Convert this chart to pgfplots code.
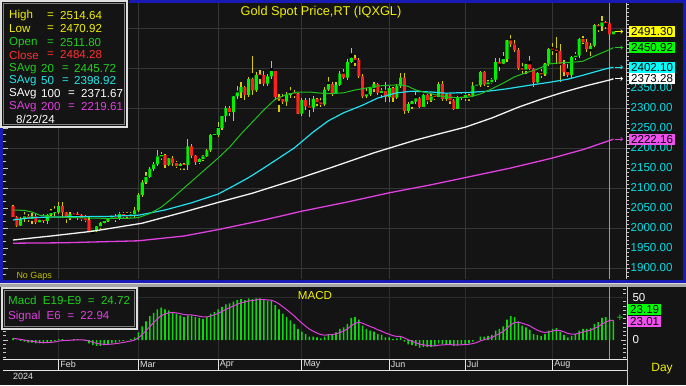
\documentclass[border=0pt]{standalone}
\usepackage{pgfplots}
\pgfplotsset{compat=1.18}
\usepackage{pgfplotstable}
\usepackage{fontspec}
\setmainfont{Liberation Sans}
\usetikzlibrary{arrows.meta}
\definecolor{bgc}{HTML}{141414}
\definecolor{gridc}{HTML}{363636}
\definecolor{framec}{HTML}{1A1AB4}
\definecolor{wickc}{HTML}{D4CC00}
\definecolor{upc}{HTML}{00F000}
\definecolor{dnc}{HTML}{FF2020}
\definecolor{ma20}{HTML}{20C020}
\definecolor{ma50}{HTML}{20E0F0}
\definecolor{ma100}{HTML}{F4F4F4}
\definecolor{ma200}{HTML}{E040E0}
\definecolor{labc}{HTML}{00E0E8}
\definecolor{ylw}{HTML}{F0F000}
\definecolor{grn}{HTML}{20D020}
\definecolor{redt}{HTML}{FF3030}
\definecolor{cyt}{HTML}{20E8E8}
\definecolor{mgt}{HTML}{E040E0}
\definecolor{tickc}{HTML}{C8C8C8}
\definecolor{histc}{HTML}{10D810}
\definecolor{curc}{HTML}{9A9A9A}
\definecolor{nogap}{HTML}{C0C000}
\newcommand\lab{\fontsize{11.6}{13}\selectfont}
\newcommand\sml{\fontsize{9}{10}\selectfont}

\pgfplotstableread{
i o h l c
0 2055 2057 2027 2028
1 2028 2031 2002 2006
2 2006 2027 2004 2022
3 2022 2040 2016 2029
4 2029 2034 2016 2022
5 2022 2037 2010 2029
6 2029 2037 2010 2014
7 2014 2023 2009 2020
8 2020 2036 2012 2018
9 2018 2036 2011 2033
10 2033 2048 2029 2037
11 2037 2056 2030 2039
12 2039 2065 2035 2055
13 2055 2066 2025 2039
14 2039 2041 2013 2025
15 2025 2039 2020 2035
16 2035 2041 2027 2034
17 2034 2041 2019 2033
18 2033 2036 2018 2024
19 2024 2032 2016 2020
20 2020 2031 1990 1992
21 1992 1996 1984 1992
22 1992 2006 1989 2004
23 2004 2016 1997 2013
24 2013 2022 2011 2017
25 2017 2031 2014 2024
26 2024 2033 2019 2025
27 2025 2034 2016 2024
28 2024 2041 2020 2035
29 2035 2040 2025 2031
30 2031 2041 2025 2029
31 2029 2040 2024 2034
32 2034 2052 2024 2044
33 2044 2088 2040 2083
34 2083 2119 2078 2114
35 2114 2141 2110 2128
36 2128 2152 2126 2148
37 2148 2165 2143 2159
38 2159 2195 2155 2179
39 2179 2189 2170 2182
40 2182 2184 2150 2158
41 2158 2175 2155 2174
42 2174 2180 2155 2162
43 2162 2168 2150 2155
44 2155 2163 2146 2160
45 2160 2163 2145 2157
46 2157 2222 2146 2204
47 2204 2210 2175 2181
48 2181 2183 2157 2165
49 2165 2176 2160 2172
50 2172 2183 2168 2179
51 2179 2197 2177 2194
52 2194 2236 2190 2233
53 2233 2236 2230 2233
54 2233 2266 2228 2250
55 2250 2281 2245 2280
56 2280 2305 2266 2300
57 2300 2305 2281 2290
58 2290 2331 2268 2329
59 2329 2354 2322 2339
60 2339 2365 2325 2352
61 2352 2355 2320 2333
62 2333 2378 2328 2372
63 2372 2431 2332 2344
64 2344 2389 2340 2383
65 2383 2395 2360 2382
66 2382 2393 2355 2361
67 2361 2385 2355 2379
68 2379 2417 2372 2392
69 2392 2392 2320 2327
70 2327 2335 2291 2322
71 2322 2335 2310 2316
72 2316 2339 2306 2332
73 2332 2353 2324 2337
74 2337 2345 2325 2336
75 2336 2337 2285 2286
76 2286 2326 2281 2320
77 2320 2326 2295 2304
78 2304 2324 2277 2301
79 2301 2331 2291 2323
80 2323 2326 2305 2314
81 2314 2324 2303 2309
82 2309 2352 2306 2346
83 2346 2378 2343 2360
84 2360 2364 2331 2336
85 2336 2365 2335 2358
86 2358 2392 2354 2386
87 2386 2397 2373 2376
88 2376 2422 2371 2415
89 2415 2450 2413 2425
90 2425 2432 2404 2420
91 2420 2425 2374 2379
92 2379 2384 2326 2329
93 2329 2349 2325 2334
94 2334 2352 2330 2350
95 2350 2364 2341 2360
96 2360 2362 2332 2338
97 2338 2351 2326 2343
98 2343 2365 2315 2327
99 2327 2354 2314 2350
100 2350 2352 2316 2326
101 2326 2359 2322 2355
102 2355 2388 2350 2376
103 2376 2387 2286 2293
104 2293 2315 2287 2310
105 2310 2318 2298 2316
106 2316 2342 2311 2324
107 2324 2327 2300 2303
108 2303 2334 2302 2333
109 2333 2334 2310 2319
110 2319 2334 2315 2329
111 2329 2336 2320 2328
112 2328 2365 2327 2360
113 2360 2368 2317 2322
114 2322 2337 2318 2334
115 2334 2335 2309 2319
116 2319 2322 2294 2298
117 2298 2329 2297 2327
118 2327 2340 2320 2326
119 2326 2339 2318 2332
120 2332 2336 2318 2330
121 2330 2365 2327 2356
122 2356 2363 2352 2357
123 2357 2392 2353 2390
124 2390 2393 2354 2359
125 2359 2369 2353 2364
126 2364 2375 2359 2371
127 2371 2424 2366 2415
128 2415 2424 2392 2411
129 2411 2440 2410 2422
130 2422 2469 2414 2469
131 2469 2483 2453 2459
132 2459 2469 2441 2445
133 2445 2449 2394 2400
134 2400 2412 2385 2396
135 2396 2411 2385 2409
136 2409 2431 2395 2398
137 2398 2399 2353 2364
138 2364 2391 2362 2387
139 2387 2397 2375 2384
140 2384 2413 2380 2411
141 2411 2451 2404 2447
142 2447 2463 2432 2446
143 2446 2477 2410 2443
144 2443 2461 2364 2410
145 2410 2420 2380 2390
146 2390 2409 2378 2382
147 2382 2431 2375 2427
148 2427 2440 2420 2431
149 2431 2475 2426 2472
150 2472 2479 2459 2465
151 2465 2472 2439 2447
152 2447 2463 2431 2456
153 2456 2509 2453 2507
154 2507 2509 2491 2504
155 2504 2531 2493 2514
156 2514 2518 2497 2512
157 2511.8 2514.64 2470.92 2484.28
158 2484.3 2493 2483 2491.3
}\ohlc

\pgfplotstableread{
i v
0 2045
3 2044
5 2040
7 2032
10 2028
15 2026
20 2025
25 2024
30 2024
33 2026
36 2036
39 2052
42 2075
45 2100
48 2125
51 2150
54 2175
57 2202
60 2235
63 2265
66 2295
69 2322
72 2334
75 2340
78 2340
81 2337
84 2336
87 2338
90 2345
93 2350
96 2355
99 2357
102 2358
104 2354
106 2345
108 2340
110 2336
112 2331
114 2327
117 2326
120 2327
123 2335
126 2348
129 2362
132 2378
135 2388
138 2397
141 2410
144 2413
147 2414
150 2417
153 2430
155 2438
157 2446
158 2451
}\smaA

\pgfplotstableread{
i v
0 2020
4 2025
8 2027
15 2028
25 2029
33 2032
40 2045
47 2063
54 2085
58 2105
62 2126
66 2150
70 2175
74 2200
79 2240
83 2268
87 2288
92 2307
96 2325
101 2338
105 2342
110 2340
114 2337
120 2339
125 2342
130 2348
136 2357
141 2364
146 2372
150 2382
153 2390
156 2398
158 2402
}\smaB

\pgfplotstableread{
i v
0 1970
10 1980
21 1992
34 2012
45 2040
54 2064
63 2087
74 2120
84 2152
95 2188
106 2220
112 2235
119 2252
126 2275
133 2302
139 2322
145 2340
151 2356
157 2370
158 2373
}\smaC

\pgfplotstableread{
i v
0 1962
13 1963
33 1968
45 1980
54 1996
66 2020
76 2042
88 2065
99 2088
110 2108
119 2126
131 2150
142 2175
150 2196
158 2222
}\smaD

\pgfplotstableread{
i m s
0 2 2.0
1 0 1.4
2 -1 0.7
3 -2 0.0
4 -3 -0.9
5 -3 -1.5
6 -4 -2.2
7 -4 -2.7
8 -4 -3.1
9 -3 -3.1
10 -2 -2.8
11 -1 -2.3
12 1 -1.3
13 1 -0.7
14 0 -0.5
15 0 -0.3
16 1 0.0
17 1 0.3
18 0 0.2
19 -1 -0.1
20 -4 -1.2
21 -6 -2.6
22 -7 -3.9
23 -7 -4.8
24 -6 -5.1
25 -5 -5.1
26 -4 -4.8
27 -3 -4.3
28 -2 -3.6
29 -1 -2.9
30 0 -2.1
31 1 -1.2
32 3 0.0
33 9 2.6
34 16 6.4
35 22 10.9
36 28 15.8
37 32 20.4
38 36 24.9
39 38 28.6
40 36 30.7
41 35 32.0
42 33 32.3
43 31 31.9
44 29 31.1
45 27 29.9
46 29 29.6
47 29 29.5
48 27 28.8
49 26 28.0
50 25 27.1
51 27 27.1
52 31 28.2
53 33 29.6
54 36 31.4
55 39 33.6
56 42 36.0
57 43 38.0
58 45 40.0
59 47 42.0
60 48 43.7
61 47 44.7
62 49 45.9
63 48 46.5
64 49 47.2
65 49 47.7
66 47 47.5
67 46 47.1
68 46 46.8
69 41 45.1
70 36 42.5
71 31 39.2
72 27 35.7
73 23 32.1
74 19 28.4
75 13 24.0
76 10 20.0
77 7 16.3
78 4 12.8
79 4 10.3
80 3 8.2
81 2 6.4
82 4 5.7
83 7 6.1
84 7 6.4
85 9 7.1
86 13 8.8
87 15 10.6
88 19 13.0
89 26 16.7
90 27 19.6
91 24 20.9
92 17 19.8
93 13 17.8
94 11 15.9
95 10 14.2
96 7 12.1
97 6 10.4
98 3 8.3
99 3 6.8
100 1 5.1
101 2 4.2
102 4 4.2
103 -2 2.4
104 -5 0.3
105 -6 -1.5
106 -7 -3.1
107 -9 -4.8
108 -8 -5.7
109 -8 -6.4
110 -8 -6.8
111 -7 -6.9
112 -4 -6.1
113 -5 -5.8
114 -5 -5.5
115 -5 -5.4
116 -7 -5.8
117 -6 -5.9
118 -5 -5.6
119 -5 -5.5
120 -4 -5.0
121 -2 -4.2
122 0 -3.0
123 4 -1.0
124 4 0.4
125 5 1.7
126 6 3.0
127 11 5.3
128 13 7.5
129 16 9.9
130 24 13.9
131 28 17.9
132 27 20.5
133 22 20.9
134 17 19.8
135 15 18.4
136 12 16.6
137 7 13.9
138 6 11.6
139 5 9.7
140 7 8.9
141 11 9.5
142 13 10.5
143 14 11.5
144 10 11.1
145 6 9.6
146 3 7.7
147 5 6.9
148 7 7.0
149 11 8.1
150 13 9.5
151 13 10.5
152 14 11.5
153 19 13.7
154 21 15.8
155 26 18.7
156 27 21.1
157 24.72 22.94
158 23.19 23.01
}\macd

\pgfplotsset{pricegeom/.style={at={(3bp,106bp)}, anchor=south west, scale only axis,
  width=623bp, height=276bp,
  xmin=-2.632, xmax=161.32, ymin=1872.5, ymax=2562.5, clip=true}}

\begin{document}
\begin{tikzpicture}[x=1bp,y=1bp]
\fill[bgc] (0,0) rectangle (686,385);

% ---------------- main price panel: grid, axis, wicks ----------------
\begin{axis}[pricegeom,
  axis line style={draw=none},
  xtick={12,33,54,76,99,119,142}, xticklabels={}, xtick style={draw=none},
  xmajorgrids,
  ytick={1900,1950,...,2350},
  minor ytick={1880,1890,...,2560},
  ytick pos=right, tick align=outside,
  major tick length=4bp, minor tick length=2.5bp,
  ytick style={draw=tickc, line width=0.8bp},
  extra y ticks={1900,2000,...,2500}, extra y tick labels={},
  extra y tick style={grid=major, major tick length=0pt},
  major grid style={draw=gridc, line width=1bp},
  scaled y ticks=false,
  yticklabel style={font=\lab, text=labc, anchor=west, inner xsep=0.5bp,
     /pgf/number format/.cd, fixed, fixed zerofill, precision=2, 1000 sep={}, assume math mode=true}]
\draw[curc, line width=1.3bp] (axis cs:157,1872.5) -- (axis cs:157,2562.5);
\addplot[only marks, mark=none, forget plot,
  error bars/.cd, y dir=both, y explicit, error mark=none,
  error bar style={draw=wickc, line width=1.2bp}]
  table[x=i, y expr={(\thisrow{h}+\thisrow{l})/2}, y error expr={(\thisrow{h}-\thisrow{l})/2}] {\ohlc};
\end{axis}

% ---------------- candle bodies (stacked: hidden base + body) ----------------
\begin{axis}[pricegeom, hide axis, ybar stacked, bar width=3.1bp]
\addplot[fill=none, draw=none] table[x=i, y expr={min(\thisrow{o},\thisrow{c})}] {\ohlc};
\addplot[fill=upc, draw=none] table[x=i, y expr={\thisrow{c}>=\thisrow{o} ? max(\thisrow{c}-\thisrow{o},2.5) : 0}] {\ohlc};
\addplot[fill=dnc, draw=none] table[x=i, y expr={\thisrow{c}<\thisrow{o} ? max(\thisrow{o}-\thisrow{c},2.5) : 0}] {\ohlc};
\end{axis}

% ---------------- moving averages ----------------
\begin{axis}[pricegeom, hide axis]
\addplot[ma200, line width=1.3bp, mark=none] table[x=i,y=v] {\smaD};
\addplot[ma100, line width=1.3bp, mark=none] table[x=i,y=v] {\smaC};
\addplot[ma50, line width=1.2bp, mark=none] table[x=i,y=v] {\smaB};
\addplot[ma20, line width=1bp, mark=none] table[x=i,y=v] {\smaA};
\end{axis}

% right axis line
\draw[tickc, line width=1bp] (626,106) -- (626,382);
% left ticks main
\foreach \k in {-1,...,39}{
  \pgfmathsetmacro\yy{117+\k*20/3}
  \pgfmathsetmacro\len{ifthenelse(mod(\k+3,3)==0,5,3)}
  \draw[tickc, line width=0.8bp] (3,\yy) -- ++(\len,0);
}

% frame of the active panel
\fill[framec] (0,102) rectangle (3,385);
\fill[framec] (129,382) rectangle (686,385);
\fill[framec] (683,102) rectangle (686,385);
\fill[framec] (0,102) rectangle (686,105.5);
% separator
\fill[gray!70] (0,98.5) rectangle (686,101.5);
\draw[white!85!black, line width=0.8bp] (0,101.2) -- (686,101.2);

% price tags
\tikzset{tag/.style={anchor=west, font=\lab, text=black, inner xsep=2bp, inner ysep=0pt, minimum height=11bp, text height=8.4bp, text depth=0pt}}
\node[tag, fill={rgb,255:red,255;green,255;blue,0}] at (629,353.5) {2491.30};
\node[tag, fill={rgb,255:red,0;green,255;blue,0}] at (629,337.4) {2450.92};
\node[tag, fill={rgb,255:red,0;green,255;blue,255}] at (629,317.8) {2402.10};
\node[tag, fill=white] at (629,306.5) {2373.28};
\node[tag, fill={rgb,255:red,240;green,80;blue,240}] at (629,245.9) {2222.16};
\foreach \yy/\cc in {353.5/ylw, 337.4/grn, 317.8/cyt, 306.3/white, 245.9/mgt}{
  \draw[\cc, line width=0.7bp, -{Straight Barb[length=1.8bp,width=3.6bp]}] (615,\yy) -- (623,\yy);
}

% title and notes
\node[font=\fontsize{12.8}{14}\selectfont, text=ylw] at (321,373) {Gold Spot Price,RT (IQXGL)};
\node[font=\sml, text=nogap, anchor=west] at (13,109) {No Gaps};

% legend box
\fill[bgc] (1,257) rectangle (128,385);
\draw[white!88!black, line width=2bp] (1,258) rectangle (127,384);
\draw[gray, line width=0.8bp] (3.2,260.2) rectangle (124.8,381.8);
\tikzset{lg/.style={font=\lab, anchor=west, inner sep=0pt}}
\node[lg, text=ylw] at (9,369.3) {High};
\node[lg, text=ylw] at (47,369.3) {=};
\node[lg, text=ylw] at (60,369.3) {2514.64};
\node[lg, text=ylw] at (9,356) {Low};
\node[lg, text=ylw] at (47,356) {=};
\node[lg, text=ylw] at (60,356) {2470.92};
\node[lg, text=grn] at (9,342.7) {Open};
\node[lg, text=grn] at (47,342.7) {=};
\node[lg, text=grn] at (60,342.7) {2511.80};
\node[lg, text=redt] at (9,330) {Close};
\node[lg, text=redt] at (47,330) {=};
\node[lg, text=redt] at (60,330) {2484.28};
\node[lg, text=grn] at (9,316.7) {SAvg};
\node[lg, text=grn] at (41,316.7) {20};
\node[lg, text=grn] at (62,316.7) {=};
\node[lg, text=grn] at (74,316.7) {2445.72};
\node[lg, text=cyt] at (9,304) {SAvg};
\node[lg, text=cyt] at (41,304) {50};
\node[lg, text=cyt] at (62,304) {=};
\node[lg, text=cyt] at (74,304) {2398.92};
\node[lg, text=white] at (9,291) {SAvg};
\node[lg, text=white] at (41,291) {100};
\node[lg, text=white] at (68,291) {=};
\node[lg, text=white] at (81,291) {2371.67};
\node[lg, text=mgt] at (9,278.3) {SAvg};
\node[lg, text=mgt] at (41,278.3) {200};
\node[lg, text=mgt] at (68,278.3) {=};
\node[lg, text=mgt] at (81,278.3) {2219.61};
\node[lg, text=white] at (16,265.7) {8/22/24};

% ---------------- MACD panel ----------------
\begin{axis}[at={(3bp,26bp)}, anchor=south west, scale only axis,
  width=623bp, height=72bp,
  xmin=-2.632, xmax=161.32, ymin=-22.35, ymax=62.35,
  axis line style={draw=none},
  xtick={12,33,54,76,99,119,142}, xticklabels={}, xtick style={draw=none},
  xmajorgrids,
  ytick={0,50}, minor ytick={-20,-15,...,60},
  ytick pos=right, tick align=inside,
  major tick length=5bp, minor tick length=3bp,
  ytick style={draw=tickc, line width=0.8bp},
  major grid style={draw=gridc!70!bgc, line width=1bp},
  yticklabel style={font=\lab, text=white, anchor=west, xshift=3bp,
     /pgf/number format/assume math mode=true},
  clip=true]
\draw[gridc!70!bgc, line width=1bp] (axis cs:-2.632,50) -- (axis cs:161.32,50);
\draw[curc, line width=1.3bp] (axis cs:157,-22.35) -- (axis cs:157,62.35);
\addplot[ybar, bar width=1.6bp, bar shift=0pt, fill=histc, draw=none] table[x=i,y=m] {\macd};
\addplot[ybar, bar width=1.6bp, bar shift=0pt, fill=mgt, draw=none] coordinates {(157,24.72)};
\addplot[mgt, line width=1bp, mark=none] table[x=i,y=s] {\macd};
\end{axis}
\draw[tickc, line width=1bp] (627,0) -- (627,98.5);
\foreach \k in {-4,...,12}{
  \pgfmathsetmacro\yy{45+\k*4.25}
  \pgfmathsetmacro\len{ifthenelse(mod(\k+20,10)==0,5,3)}
  \draw[tickc, line width=0.8bp] (3,\yy) -- ++(\len,0);
}

% MACD legend box
\fill[bgc] (2,56) rectangle (137,97);
\draw[white!88!black, line width=2bp] (2,56) rectangle (137,97);
\draw[gray, line width=0.8bp] (4.2,58.2) rectangle (134.8,94.8);
\node[lg, text=grn] at (8,85) {Macd\ \ E19-E9\ \ =\ \ 24.72};
\node[lg, text=mgt] at (8,68) {Signal\ \ E6\ \ =\ \ 22.94};
\node[font=\lab, text=ylw] at (315,89) {MACD};
\node[tag, fill={rgb,255:red,0;green,255;blue,0}] at (628,75.3) {23.19};
\node[tag, fill={rgb,255:red,240;green,80;blue,240}] at (628,64) {23.01};
\node[font=\lab, text=grn] at (620,67) {+};

% bottom date strip
\draw[white!90!black, line width=1bp] (3,26) -- (627,26);
\draw[white!90!black, line width=1bp] (3,15) -- (627,15);
\foreach \xx/\mm in {58.6/Feb,138.4/Mar,218.2/Apr,301.8/May,389.2/Jun,465.2/Jul,552.6/Aug}{
  \draw[white!90!black, line width=1bp] (\xx,15) -- (\xx,26);
  \node[font=\sml, text=white!88!black, anchor=west, inner sep=0pt] at (\xx+1.5,20.3) {\mm};
}
\node[font=\sml, text=white!88!black, anchor=west, inner sep=0pt] at (13,8.5) {2024};
\node[font=\fontsize{12}{13}\selectfont, text=ylw] at (662,16) {Day};

\pgfresetboundingbox
\useasboundingbox (0,0) rectangle (686,385);
\end{tikzpicture}
\end{document}
